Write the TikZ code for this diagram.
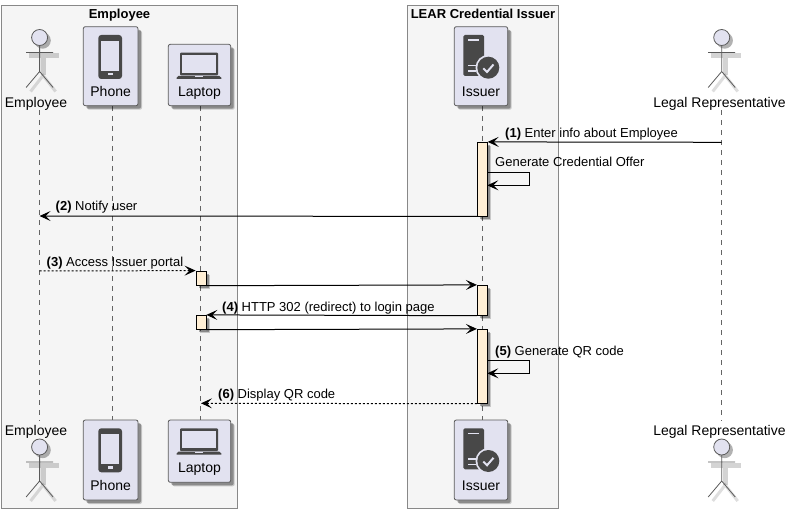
\documentclass[tikz,border=0pt]{standalone}
\usepackage{fontspec}
\setmainfont{Liberation Sans}
\usetikzlibrary{arrows.meta,positioning,shadows}
\definecolor{seqedge}{RGB}{90,90,90}
\definecolor{seqpart}{RGB}{226,226,240}
\definecolor{seqgrp}{RGB}{245,245,245}
\definecolor{seqgrpline}{RGB}{136,136,136}
\definecolor{seqbar}{RGB}{255,239,213}
\definecolor{seqicon}{RGB}{72,72,72}
\definecolor{seqlife}{RGB}{100,100,100}
\tikzset{
  softshadow/.style={
    drop shadow={shadow xshift=4pt, shadow yshift=-4pt, opacity=.18, fill=black},
    drop shadow={shadow xshift=3pt, shadow yshift=-3pt, opacity=.30, fill=black}
  },
  grpbox/.style={draw=seqgrpline, fill=seqgrp, line width=1pt},
  grptitle/.style={font=\fontsize{13}{15}\selectfont\bfseries, inner sep=0pt, anchor=base},
  devbox/.style={
    draw=seqedge, fill=seqpart, line width=0.8pt, rounded corners=2pt, softshadow,
    inner sep=0pt, text depth=9.5pt, font=\fontsize{14}{16}\selectfont
  },
  partlbl/.style={font=\fontsize{14}{16}\selectfont, inner sep=0pt, anchor=base},
  life/.style={draw=seqlife, line width=0.7pt, dash pattern=on 5pt off 5pt},
  actbar/.style={
    draw=black, fill=seqbar, line width=0.8pt, minimum width=10pt, inner sep=0pt,
    softshadow
  },
  msg/.style={-{Stealth[length=11pt,width=10pt,inset=5pt]}, draw=black, line width=1pt},
  dmsg/.style={msg, dash pattern=on 2pt off 2pt},
  msglbl/.style={font=\fontsize{13}{15}\selectfont, inner sep=0pt, anchor=base west},
  actorfig/.pic={
    \draw[black, opacity=.17, line width=5pt] (-11,18.5) -- (19,18.5);
    \draw[black, opacity=.17, line width=5pt] (3.5,21) -- (3.5,38);
    \draw[black, opacity=.13, line width=3pt] (-9,54) -- (3.5,38) -- (16,54);
    \fill[black, opacity=.3] (3,3) circle (8.2);
    \draw[seqedge, line width=.8pt] (0,8) -- (0,34) (-13.5,15) -- (13.5,15)
      (-13.5,50) -- (0,34) -- (13.5,50);
    \draw[seqedge, fill=seqpart, line width=.8pt] (0,0) circle (8);
  },
  phoneicon/.pic={
    \fill[seqicon, rounded corners=3pt] (15,8.3) rectangle (38.7,52.3);
    \fill[seqpart] (17.4,14) rectangle (36,44);
    \fill[seqpart] (24.4,46.3) rectangle (29.4,48.6);
  },
  laptopicon/.pic={
    \fill[seqicon, rounded corners=1pt] (11.7,8.4) rectangle (49.7,31);
    \fill[seqpart] (13.9,10.7) rectangle (47.7,28.4);
    \fill[seqicon] (10,31.7) -- (51,31.7) -- (53,33.4) -- (53,34.7) -- (8.4,34.7) -- (8.4,33.4) -- cycle;
    \fill[seqpart] (26.7,31.7) rectangle (35,33);
  },
  issuericon/.pic={
    \fill[seqicon, rounded corners=1.5pt] (9,8.3) rectangle (29.7,49.3);
    \fill[seqpart] (14,12.6) rectangle (25,14.2);
    \fill[seqpart] (13.7,38.2) rectangle (21.7,39.6);
    \fill[seqpart] (13.7,43.6) rectangle (21.7,45);
    \fill[seqpart] (34,41) circle (12.8);
    \fill[seqicon] (34,41) circle (11);
    \draw[seqpart, line width=2pt] (29,41.6) -- (32.7,45.3) -- (39.2,37.8);
  }
}
\begin{document}
\begin{tikzpicture}[x=1pt, y=-1pt]
  \useasboundingbox (0,0) rectangle (792,513);
  % GROUPS
  \node[grpbox, minimum width=236.7pt, minimum height=502.3pt, inner sep=0pt] (grpEmp) at (119.35,257.15) {};
  \node[grpbox, minimum width=151pt, minimum height=502.3pt, inner sep=0pt] (grpIss) at (482.8,257.15) {};
  \node[grptitle] (grpEmpT) at (119.5,19) {Employee};
  \node[grptitle] (grpIssT) at (483,19) {LEAR Credential Issuer};
  % LIFELINES
  \coordinate (empTop) at (39.6,110);
  \coordinate (empBot) at (39.6,421);
  \coordinate (phoTop) at (112.3,106);
  \coordinate (phoBot) at (112.3,420);
  \coordinate (lapTop) at (200.3,106);
  \coordinate (lapBot) at (200.3,420);
  \coordinate (issTop) at (482.3,106);
  \coordinate (issBot) at (482.3,420);
  \coordinate (legTop) at (721.7,110);
  \coordinate (legBot) at (721.7,421);
  \draw[life] (empTop) -- (empBot);
  \draw[life] (phoTop) -- (phoBot);
  \draw[life] (lapTop) -- (lapBot);
  \draw[life] (issTop) -- (issBot);
  \draw[life] (legTop) -- (legBot);
  % TOP ROW
  \pic at (39.6,37.5) {actorfig};
  \node[partlbl] (empA) at (36,107.5) {Employee};
  \node[devbox, minimum width=54.7pt, text height=69.5pt] (phoA) at (110.65,66.2) {Phone};
  \pic at (83.3,26.7) {phoneicon};
  \node[devbox, minimum width=62.4pt, text height=51.9pt] (lapA) at (199.5,75) {Laptop};
  \pic at (168.3,44.3) {laptopicon};
  \node[devbox, minimum width=53.4pt, text height=69.5pt] (issA) at (481,66.2) {Issuer};
  \pic at (454.3,26.7) {issuericon};
  \pic at (721.7,37.5) {actorfig};
  \node[partlbl] (legA) at (719.5,107.5) {Legal Representative};
  % BOTTOM ROW
  \node[partlbl] (empB) at (36,435) {Employee};
  \pic at (39.6,447) {actorfig};
  \node[devbox, minimum width=54.7pt, text height=70.5pt] (phoB) at (110.65,460) {Phone};
  \pic at (83.3,420) {phoneicon};
  \node[devbox, minimum width=62.4pt, text height=52.8pt] (lapB) at (199.5,451.15) {Laptop};
  \pic at (168.3,420) {laptopicon};
  \node[devbox, minimum width=53.4pt, text height=70.5pt] (issB) at (481,460) {Issuer};
  \pic at (454.3,420) {issuericon};
  \node[partlbl] (legB) at (719.5,435) {Legal Representative};
  \pic at (721.7,447) {actorfig};
  % ACTIVATIONS
  \node[actbar, minimum height=73.7pt] (issOne) at (482.3,179.15) {};
  \node[actbar, minimum height=14.3pt] (lapOne) at (201,278.15) {};
  \node[actbar, minimum height=30pt] (issTwo) at (482.3,300.3) {};
  \node[actbar, minimum height=14pt] (lapTwo) at (201,322.3) {};
  \node[actbar, minimum height=74pt] (issThree) at (482.3,366.3) {};
  % MESSAGES
  \coordinate (legMa) at (721.7,142.3);
  \coordinate (empMb) at (39.6,216);
  \coordinate (empMc) at (39.6,271);
  \coordinate (lapMf) at (201,403.3);
  \coordinate (selfOne) at (487.3,172.7);
  \coordinate (selfOneEnd) at (487.3,185.3);
  \coordinate (selfTwo) at (487.3,360.7);
  \coordinate (selfTwoEnd) at (487.3,373.3);
  \draw[msg] (legMa) -- (issOne.north east);
  \draw[msg] (selfOne) -- ++(42,0) -- ++(0,12.6) -- (selfOneEnd);
  \draw[msg] (issOne.south west) -- (empMb);
  \draw[dmsg] (empMc) -- (lapOne.north west);
  \draw[msg] (lapOne.south east) -- (issTwo.north west);
  \draw[msg] (issTwo.south west) -- (lapTwo.north east);
  \draw[msg] (lapTwo.south east) -- (issThree.north west);
  \draw[msg] (selfTwo) -- ++(42,0) -- ++(0,12.6) -- (selfTwoEnd);
  \draw[dmsg] (issThree.south west) -- (lapMf);
  % LABELS
  \node[msglbl] (lblA) at (505,137.5) {\textbf{(1)} Enter info about Employee};
  \node[msglbl] (lblSelf) at (495,167) {Generate Credential Offer};
  \node[msglbl] (lblB) at (55.5,211) {\textbf{(2)} Notify user};
  \node[msglbl] (lblC) at (46.5,266) {\textbf{(3)} Access Issuer portal};
  \node[msglbl] (lblD) at (222,311) {\textbf{(4)} HTTP 302 (redirect) to login page};
  \node[msglbl] (lblE) at (495,355.5) {\textbf{(5)} Generate QR code};
  \node[msglbl] (lblF) at (218,398.5) {\textbf{(6)} Display QR code};
\end{tikzpicture}
\end{document}
